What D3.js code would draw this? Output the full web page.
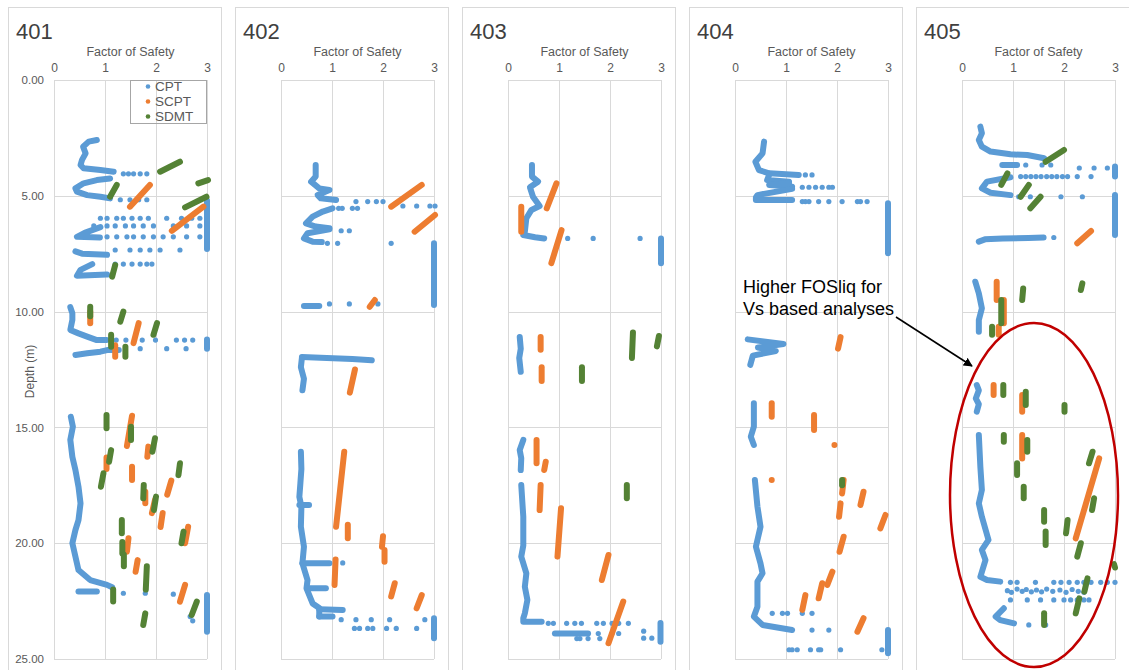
<!DOCTYPE html>
<html>
<head>
<meta charset="utf-8">
<script src="https://cdn.jsdelivr.net/npm/d3@7"></script>
<style>
  body { margin: 0; background: #fff; }
  svg { display: block; font-family: "Liberation Sans", Arial, sans-serif; }
</style>
</head>
<body>
<svg id="chart" width="1129" height="670"></svg>
<script>
// ---------------------------------------------------------------
// Liquefaction factor of safety profiles, sites 401 - 405
// Values are [factor of safety, depth (m)].
// CPT soundings are dense, so continuous stretches are kept as traces
// and the scattered readings as single points.
// SCPT / SDMT runs are kept as [fs, depth, fs, depth] end pairs.
// ---------------------------------------------------------------
const sites = ["401", "402", "403", "404", "405"];
const fsTicks = [0, 1, 2, 3];
const depthTicks = [0, 5, 10, 15, 20, 25];
const seriesNames = ["CPT", "SCPT", "SDMT"];

// ----- 401 -----
const cptTrace401 = [
  [[0.84,2.59],[0.68,2.66],[0.57,2.88],[0.62,3.17],[0.55,3.45],[0.52,3.67],[0.58,3.81],[0.91,3.89],[1.17,3.96]],
  [[1.10,4.25],[0.84,4.32],[0.58,4.46],[0.42,4.68],[0.45,4.82],[0.65,4.97],[0.91,5.04],[1.10,5.11]],
  [[0.91,6.35],[0.60,6.60],[0.45,6.77],[0.90,6.80]],
  [[0.42,7.40],[0.55,7.50],[1.04,7.55]],
  [[0.75,7.95],[0.52,8.20],[0.45,8.45],[1.04,8.40]],
  [[3.00,5.20],[3.00,7.30]],
  [[0.32,9.81],[0.36,10.07],[0.36,10.36],[0.32,10.79],[0.48,10.94],[0.65,11.08],[0.84,11.23],[1.03,11.23]],
  [[0.42,11.87],[0.65,11.80],[0.91,11.73],[1.04,11.66],[1.27,11.66]],
  [[3.00,11.20],[3.00,11.60]],
  [[0.33,14.54],[0.37,14.97],[0.32,15.54],[0.36,16.27],[0.42,16.84],[0.48,17.56],[0.52,18.28],[0.48,19.00],
   [0.42,19.43],[0.36,20.00],[0.42,20.58],[0.48,21.16],[0.71,21.59],[1.04,21.80],[1.14,21.90]],
  [[0.48,22.09],[0.84,22.09]],
  [[3.00,22.24],[3.00,23.82]]
];
const cptDots401 = [
  [1.36,4.05],[1.46,4.05],[1.56,4.05],[1.69,4.05],[1.82,4.05],
  [1.30,5.17],[1.49,5.17],[1.66,5.17],[1.82,5.17],
  [0.91,5.97],[1.04,5.97],[1.23,5.97],[1.36,5.97],[1.53,5.97],[1.69,5.97],[1.85,5.97],[2.21,5.97],[2.50,5.97],[2.70,5.97],[2.86,5.97],
  [0.78,6.30],[1.04,6.30],[1.20,6.30],[1.40,6.30],[1.56,6.30],[1.75,6.30],[1.95,6.30],[2.34,6.30],[2.60,6.30],[2.86,6.30],
  [1.04,6.77],[1.23,6.77],[1.43,6.77],[1.56,6.77],[1.75,6.77],[1.95,6.77],[2.14,6.77],[2.34,6.77],[2.60,6.77],[2.86,6.77],
  [1.20,7.34],[1.49,7.34],[1.69,7.34],[1.88,7.34],[2.08,7.34],[2.47,7.34],
  [1.20,7.95],[1.36,7.95],[1.53,7.95],[1.69,7.95],[1.82,7.95],[1.92,7.95],
  [1.22,11.23],[1.41,11.23],[1.73,11.23],[1.99,11.23],[2.40,11.23],[2.56,11.23],[2.72,11.23],
  [1.69,11.60],[2.21,11.60],[2.59,11.60],
  [1.36,22.16],[1.79,22.16],[2.34,22.20],
  [2.67,23.17],[2.72,23.35]
];
const scpt401 = [
  [1.49,5.47,1.88,4.53],[2.31,6.51,2.93,5.47],
  [0.71,10.00,0.71,10.50],[1.56,11.36,1.66,10.50],[1.20,11.45,1.20,11.95],
  [1.53,14.50,1.43,15.80],[1.83,16.27,1.85,15.83],[1.03,16.30,1.03,16.80],[1.53,16.70,1.53,17.27],
  [2.22,17.90,2.30,17.30],[1.79,17.78,1.79,18.28],[1.92,18.70,1.98,18.13],[2.09,19.30,2.13,18.70],
  [2.57,20.00,2.63,19.29],[1.43,20.37,1.46,19.79],[1.60,21.23,1.64,20.73],[2.47,22.52,2.57,21.80]
];
const sdmt401 = [
  [2.08,3.96,2.47,3.53],[2.83,4.46,3.02,4.32],[2.57,5.50,2.99,5.04],[1.10,5.04,1.23,4.53],[1.14,8.49,1.20,7.99],
  [0.71,9.79,0.71,10.20],[1.30,10.43,1.36,10.00],[1.95,11.00,2.02,10.50],[1.12,11.00,1.12,11.52],[1.40,11.52,1.40,11.95],
  [1.03,14.46,1.03,15.04],[1.51,14.97,1.51,15.54],[1.93,16.05,1.98,15.47],[1.08,16.48,1.12,15.98],
  [0.92,17.56,0.97,16.98],[2.44,17.06,2.47,16.55],[1.75,18.06,1.76,17.49],[1.96,18.57,2.00,17.99],
  [1.33,19.00,1.33,19.57],[2.50,20.00,2.54,19.50],[1.34,19.95,1.34,20.45],[1.37,20.50,1.37,21.00],
  [1.80,22.00,1.82,21.00],[1.16,22.00,1.16,22.52],[2.70,23.10,2.80,22.52],[1.75,23.53,1.79,23.03]
];

// ----- 402 -----
const cptTrace402 = [
  [[0.68,3.67],[0.68,4.17],[0.59,4.39],[0.75,4.68],[0.95,4.75],[0.72,4.97],[0.78,5.11],[1.08,5.18]],
  [[1.01,5.54],[0.82,5.68],[0.62,5.90],[0.49,6.19],[0.68,6.33],[0.95,6.40]],
  [[0.95,6.45],[0.52,6.62],[0.45,6.84],[0.62,6.98],[0.80,7.00]],
  [[3.00,7.05],[3.00,9.72]],
  [[0.45,9.76],[0.75,9.76]],
  [[0.41,11.96],[0.90,12.00],[1.40,12.05],[1.78,12.10]],
  [[0.41,12.00],[0.39,12.40],[0.45,12.90],[0.42,13.40]],
  [[0.39,16.05],[0.40,16.80],[0.38,17.41],[0.36,18.00],[0.40,18.42],[0.39,19.29],[0.45,20.15],[0.42,20.87],
   [0.52,21.59],[0.50,21.95],[0.62,22.60],[0.75,22.80],[0.75,23.17]],
  [[0.36,18.35],[0.55,18.35]],
  [[0.42,20.87],[0.95,20.87]],
  [[0.52,21.95],[0.88,21.95]],
  [[0.75,22.85],[1.21,22.88]],
  [[0.75,23.17],[1.01,23.17]],
  [[3.00,23.24],[3.00,24.10]]
];
const cptDots402 = [
  [1.47,5.25],[1.70,5.25],[1.87,5.25],[2.00,5.25],
  [1.13,5.54],[1.20,5.54],[1.40,5.54],[1.50,5.54],
  [2.39,5.44],[2.66,5.44],[2.92,5.44],[3.02,5.44],
  [1.18,6.51],[1.34,6.51],
  [0.91,7.05],[1.11,7.05],[2.16,7.05],
  [0.95,9.67],[1.34,9.67],[1.90,9.67],
  [1.21,20.85],
  [1.18,23.30],[1.47,23.30],[1.77,23.30],[2.13,23.30],[2.82,23.30],
  [1.44,23.68],[1.54,23.68],[1.70,23.68],[1.80,23.68],[2.07,23.68],[2.26,23.68],[2.66,23.68]
];
const scpt402 = [
  [2.16,5.47,2.76,4.53],[2.62,6.55,3.02,5.83],[1.74,9.79,1.84,9.50],
  [1.45,12.50,1.35,13.50],
  [1.24,16.05,1.08,19.29],[1.31,19.20,1.31,19.79],[2.00,19.70,1.98,20.15],[2.03,20.29,2.03,20.80],
  [1.07,20.70,1.05,21.80],[2.23,21.73,2.16,22.30],[2.76,22.24,2.66,22.81]
];
const sdmt402 = [];

// ----- 403 -----
const cptTrace403 = [
  [[0.47,3.67],[0.47,4.17],[0.59,4.39],[0.43,4.63],[0.49,5.04],[0.62,5.44],[0.46,5.61],[0.36,5.97],
   [0.33,6.55],[0.30,6.69],[0.53,6.79],[0.71,6.84]],
  [[3.00,6.84],[3.00,7.91]],
  [[0.23,11.10],[0.25,11.60],[0.22,12.00],[0.25,12.60]],
  [[0.30,15.54],[0.23,15.98],[0.26,16.33],[0.25,16.84]],
  [[0.26,17.49],[0.30,18.86],[0.30,20.10],[0.26,20.58],[0.36,21.30],[0.33,21.88],[0.38,22.45],[0.33,23.03],
   [0.30,23.24],[0.30,23.39],[0.66,23.39]],
  [[0.92,23.90],[1.57,23.90]],
  [[2.99,23.45],[2.99,24.25]]
];
const cptDots403 = [
  [1.17,6.84],[1.67,6.84],[2.59,6.84],
  [0.79,23.46],[0.89,23.46],[1.15,23.46],[1.31,23.46],[1.44,23.46],[1.74,23.46],[1.87,23.46],[2.04,23.46],[2.17,23.46],[2.36,23.46],
  [1.77,23.90],[2.04,23.90],[2.17,23.90],[2.66,23.80],
  [1.35,24.12],[1.41,24.12],[1.57,24.12],[1.80,24.12],[2.66,24.10],[2.82,24.10]
];
const scpt403 = [
  [0.95,4.46,0.76,5.54],[0.26,5.47,0.26,6.55],[1.05,6.48,0.85,7.91],
  [0.64,11.10,0.64,11.65],[0.66,12.40,0.66,13.00],
  [0.56,15.54,0.56,16.55],[0.74,16.48,0.71,16.84],[0.64,17.49,0.62,18.57],[1.04,18.49,0.97,20.58],
  [1.97,20.51,1.84,21.59],[2.26,22.52,1.97,24.32]
];
const sdmt403 = [
  [1.45,12.40,1.45,13.00],[2.43,12.00,2.45,10.90],[2.92,11.50,2.96,11.05],[2.33,17.49,2.33,18.06]
];

// ----- 404 -----
const cptTrace404 = [
  [[0.57,2.66],[0.54,3.17],[0.40,3.53],[0.47,3.89],[0.67,4.03],[1.25,4.10]],
  [[0.67,4.10],[0.63,4.32],[1.06,4.39]],
  [[1.06,4.45],[0.67,4.53],[1.12,4.61]],
  [[1.12,4.70],[0.44,4.97],[0.41,5.07],[0.41,5.18],[1.12,5.18]],
  [[3.00,5.32],[3.00,7.48]],
  [[0.25,11.20],[0.60,11.30],[0.95,11.40],[0.45,11.55],[0.80,11.70],[0.35,11.90],[0.30,12.30]],
  [[0.37,13.96],[0.37,14.97],[0.31,15.40],[0.37,15.76]],
  [[0.39,17.27],[0.44,18.42],[0.50,19.29],[0.41,20.15],[0.50,20.87],[0.54,21.30],[0.44,21.66],[0.44,22.74],
   [0.37,23.17],[0.54,23.53],[1.12,23.75]],
  [[3.00,23.75],[3.00,24.75]]
];
const cptDots404 = [
  [1.38,4.10],[1.51,4.10],
  [1.32,4.63],[1.45,4.63],[1.58,4.63],[1.71,4.63],[1.84,4.63],[1.91,4.63],
  [1.32,5.25],[1.38,5.25],[1.45,5.25],[1.64,5.25],[1.84,5.25],[2.10,5.25],[2.40,5.25],[2.46,5.25],[2.59,5.25],
  [0.73,23.03],[0.93,23.03],[1.03,23.03],[1.32,23.03],[1.51,23.03],
  [1.51,23.75],[1.84,23.75],
  [1.06,24.60],[1.12,24.60],[1.22,24.60],[1.48,24.60],[1.64,24.60],[1.68,24.60],[2.07,24.60],[2.88,24.60]
];
const scpt404 = [
  [2.07,11.10,2.02,11.60],
  [0.72,13.96,0.72,14.54],[1.55,14.46,1.55,15.11],[1.95,15.76,1.95,15.76],[0.72,17.27,0.72,17.27],
  [2.13,17.27,2.10,17.85],[2.52,17.78,2.46,18.35],[2.07,18.28,2.04,18.86],[2.95,18.78,2.85,19.36],
  [2.13,19.72,2.05,20.37],[1.91,21.23,1.81,21.80],[1.71,21.73,1.64,22.38],[1.38,22.24,1.32,22.88],
  [2.52,23.24,2.40,23.82]
];
const sdmt404 = [
  [2.10,17.27,2.10,17.50]
];

// ----- 405 -----
const cptTrace405 = [
  [[0.36,2.01],[0.39,2.30],[0.33,2.59],[0.39,2.88],[0.56,3.09],[0.95,3.21],[1.28,3.24],[1.61,3.38]],
  [[0.79,3.67],[1.08,3.67]],
  [[3.00,3.74],[3.00,4.17]],
  [[0.95,4.20],[0.49,4.39],[0.39,4.68],[0.56,4.87],[0.95,4.97]],
  [[3.00,4.97],[3.00,6.69]],
  [[0.33,6.98],[0.45,6.88],[0.80,6.84],[1.30,6.82],[1.60,6.80]],
  [[0.26,8.71],[0.33,9.21],[0.39,9.86],[0.33,10.36],[0.33,10.87]],
  [[0.29,13.17],[0.33,13.40],[0.27,13.75],[0.33,14.00],[0.29,14.32]],
  [[0.33,15.33],[0.36,16.70],[0.39,17.70],[0.33,18.28],[0.39,18.86],[0.52,19.86],[0.39,20.29],[0.46,20.73],
   [0.36,21.45],[0.49,21.59],[0.75,21.66]],
  [[0.82,22.81],[0.66,23.17],[0.75,23.32],[1.02,23.46]]
];
const cptDots405 = [
  [1.25,3.67],[1.57,3.67],[1.74,3.67],
  [2.30,3.80],[2.59,3.80],[2.85,3.80],
  [1.15,4.17],[1.25,4.17],[1.35,4.17],[1.45,4.17],[1.55,4.17],[1.66,4.17],[1.76,4.17],[1.86,4.17],[1.97,4.17],[2.07,4.17],[2.26,4.17],[2.53,4.17],
  [1.11,5.04],[1.34,5.04],[1.94,5.04],[2.36,5.04],
  [1.80,6.80],
  [0.95,21.69],[1.08,21.69],[1.44,21.69],[1.80,21.69],[1.94,21.69],[2.10,21.69],[2.26,21.69],[2.39,21.69],[2.53,21.69],[2.72,21.69],[2.85,21.69],[3.00,21.69],
  [0.89,22.05],[0.97,22.12],[1.08,21.98],[1.18,22.08],[1.26,22.00],[1.36,22.10],[1.46,22.02],[1.56,22.10],
  [1.66,21.98],[1.78,22.08],[1.92,22.02],[2.04,22.12],[2.16,22.00],[2.28,22.08],[2.39,22.12],
  [0.95,22.45],[1.28,22.45],[1.54,22.45],[1.80,22.45],[2.00,22.45],[2.13,22.45],[2.26,22.45],[2.39,22.45],[2.49,22.45],
  [1.31,23.53],[1.64,23.53]
];
const scpt405 = [
  [2.26,7.05,2.53,6.52],[0.68,8.71,0.68,9.50],[0.82,9.50,0.82,10.50],[0.72,10.65,0.72,11.00],
  [0.62,13.17,0.62,13.60],[1.18,13.60,1.18,14.32],[1.18,15.33,1.18,16.34],[2.69,16.34,2.23,19.79]
];
const sdmt405 = [
  [1.64,3.53,2.00,3.02],[0.77,4.53,0.89,4.03],[1.15,5.04,1.31,4.53],[1.34,5.54,1.54,5.04],
  [0.77,9.50,0.77,10.50],[0.59,10.65,0.59,11.00],[1.18,9.50,1.20,9.00],[2.33,9.07,2.36,8.78],
  [0.81,13.17,0.81,13.60],[1.25,13.46,1.25,14.03],[2.01,14.03,2.01,14.32],
  [1.28,15.54,1.28,16.05],[0.82,15.33,0.82,15.62],[1.08,16.55,1.08,17.06],[1.21,17.56,1.21,18.06],
  [2.49,16.55,2.56,16.05],[2.55,18.57,2.59,18.06],[1.61,18.57,1.61,19.07],[2.04,19.57,2.07,19.00],
  [1.64,19.50,1.64,20.08],[2.26,20.58,2.33,20.00],[2.98,20.90,3.00,21.05],[2.40,22.09,2.46,21.52],
  [2.23,23.03,2.30,22.38],[1.61,23.03,1.61,23.53]
];

const panelData = [
  { trace: cptTrace401, dots: cptDots401, scpt: scpt401, sdmt: sdmt401 },
  { trace: cptTrace402, dots: cptDots402, scpt: scpt402, sdmt: sdmt402 },
  { trace: cptTrace403, dots: cptDots403, scpt: scpt403, sdmt: sdmt403 },
  { trace: cptTrace404, dots: cptDots404, scpt: scpt404, sdmt: sdmt404 },
  { trace: cptTrace405, dots: cptDots405, scpt: scpt405, sdmt: sdmt405 }
];

// ---------------- drawing ----------------
const colors = { CPT: "#5b9bd5", SCPT: "#ed7d31", SDMT: "#548235" };
const gridColor = "#d9d9d9";
const textGray = "#595959";

const frameTop = 7, frameWidth = 213, frameHeight = 668;
const firstLeft = 8, step = 227, plotOffset = 46, plotWidth = 153;
const plotTop = 80, plotBottom = 659;

const svg = d3.select("#chart");
const y = d3.scaleLinear().domain([0, 25]).range([plotTop, plotBottom]);

sites.forEach((site, i) => {
  const p = panelData[i];
  const left = firstLeft + i * step;
  const x = d3.scaleLinear().domain([0, 3]).range([left + plotOffset, left + plotOffset + plotWidth]);
  const g = svg.append("g").attr("class", "panel");

  // panel frame
  g.append("rect")
    .attr("x", left + 0.5).attr("y", frameTop + 0.5)
    .attr("width", frameWidth).attr("height", frameHeight)
    .attr("fill", "#fff").attr("stroke", gridColor);

  // gridlines
  g.selectAll("line.h").data(depthTicks).join("line").attr("class", "h")
    .attr("x1", x(0)).attr("x2", x(3))
    .attr("y1", d => Math.round(y(d)) + 0.5).attr("y2", d => Math.round(y(d)) + 0.5)
    .attr("stroke", gridColor);
  g.selectAll("line.v").data(fsTicks).join("line").attr("class", "v")
    .attr("y1", y(0)).attr("y2", y(25))
    .attr("x1", d => Math.round(x(d)) + 0.5).attr("x2", d => Math.round(x(d)) + 0.5)
    .attr("stroke", gridColor);

  // top axis: factor of safety
  const ax = g.append("g")
    .attr("transform", `translate(0,${plotTop - 5})`)
    .call(d3.axisTop(x).tickValues(fsTicks).tickSize(0).tickPadding(3).tickFormat(d3.format("d")));
  ax.select(".domain").remove();
  ax.selectAll("text").attr("fill", textGray).attr("font-size", 12)
    .attr("font-family", "'Liberation Sans', Arial, sans-serif");

  g.append("text")
    .attr("x", (x(0) + x(3)) / 2).attr("y", 56)
    .attr("text-anchor", "middle").attr("font-size", 12.5).attr("fill", textGray)
    .text("Factor of Safety");

  // site name
  g.append("text")
    .attr("x", left + 8).attr("y", 38.5)
    .attr("font-size", 22).attr("fill", "#404040")
    .text(site);

  // depth axis on the first panel only
  if (i === 0) {
    const ay = g.append("g")
      .attr("transform", `translate(${x(0) - 2},0)`)
      .call(d3.axisLeft(y).tickValues(depthTicks).tickSize(0).tickPadding(8).tickFormat(d3.format(".2f")));
    ay.select(".domain").remove();
    ay.selectAll("text").attr("fill", textGray).attr("font-size", 11.5)
      .attr("font-family", "'Liberation Sans', Arial, sans-serif");
    g.append("text")
      .attr("transform", `translate(34,${(y(0) + y(25)) / 2 + 2}) rotate(-90)`)
      .attr("text-anchor", "middle").attr("font-size", 12).attr("fill", textGray)
      .text("Depth (m)");
  }

  // CPT
  const line = d3.line().x(d => x(d[0])).y(d => y(d[1]));
  g.selectAll("path.cpt").data(p.trace).join("path").attr("class", "cpt")
    .attr("d", line).attr("fill", "none")
    .attr("stroke", colors.CPT).attr("stroke-width", 6)
    .attr("stroke-linecap", "round").attr("stroke-linejoin", "round");
  g.selectAll("circle.cpt").data(p.dots).join("circle").attr("class", "cpt")
    .attr("cx", d => x(d[0])).attr("cy", d => y(d[1])).attr("r", 2.6)
    .attr("fill", colors.CPT);

  // SCPT and SDMT runs
  [["SCPT", p.scpt], ["SDMT", p.sdmt]].forEach(([name, segs]) => {
    g.selectAll(`line.${name}`).data(segs).join("line").attr("class", name)
      .attr("x1", d => x(d[0])).attr("y1", d => y(d[1]))
      .attr("x2", d => x(d[2])).attr("y2", d => y(d[3]))
      .attr("stroke", colors[name]).attr("stroke-width", 6)
      .attr("stroke-linecap", "round");
  });

  // legend on the first panel
  if (i === 0) {
    const lg = g.append("g");
    lg.append("rect")
      .attr("x", 130.5).attr("y", 80.5).attr("width", 76).attr("height", 43)
      .attr("fill", "none").attr("stroke", "#a6a6a6");
    seriesNames.forEach((name, k) => {
      const cy = 86.5 + k * 15;
      lg.append("circle").attr("cx", 148).attr("cy", cy).attr("r", 2.3).attr("fill", colors[name]);
      lg.append("text").attr("x", 155).attr("y", cy + 4.8)
        .attr("font-size", 13.5).attr("fill", textGray).text(name);
    });
  }
});

// annotation
const note = svg.append("g");
note.append("text").attr("x", 743).attr("y", 293).attr("font-size", 18).attr("fill", "#000")
  .text("Higher FOSliq for");
note.append("text").attr("x", 743).attr("y", 315).attr("font-size", 18).attr("fill", "#000")
  .text("Vs based analyses");

svg.append("defs").append("marker")
  .attr("id", "arrowHead").attr("viewBox", "0 0 10 10")
  .attr("refX", 9).attr("refY", 5).attr("markerWidth", 9).attr("markerHeight", 9)
  .attr("markerUnits", "userSpaceOnUse").attr("orient", "auto")
  .append("path").attr("d", "M0,0 L10,5 L0,10 Z").attr("fill", "#000");
note.append("line")
  .attr("x1", 896).attr("y1", 317).attr("x2", 972).attr("y2", 366)
  .attr("stroke", "#000").attr("stroke-width", 1.6).attr("marker-end", "url(#arrowHead)");

note.append("ellipse")
  .attr("cx", 1034).attr("cy", 495).attr("rx", 84).attr("ry", 172)
  .attr("fill", "none").attr("stroke", "#c00000").attr("stroke-width", 2.5);
</script>
</body>
</html>
